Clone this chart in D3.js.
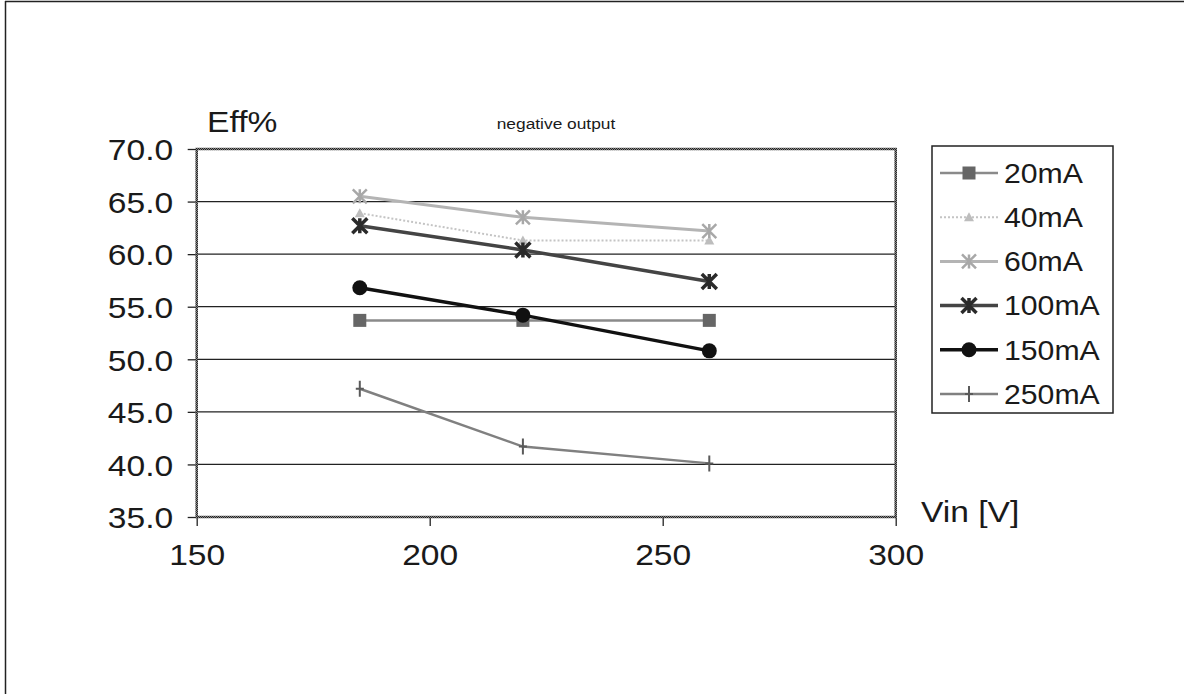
<!DOCTYPE html>
<html>
<head>
<meta charset="utf-8">
<script src="https://cdn.jsdelivr.net/npm/d3@7"></script>
<style>
  html, body { margin: 0; padding: 0; background: #fff; }
  svg { display: block; }
  text { font-family: "Liberation Sans", Arial, sans-serif; fill: #1a1a1a; }
</style>
</head>
<body>
<script>
// ---- data ----
const vin = [185, 220, 260];
const seriesNames = ["20mA", "40mA", "60mA", "100mA", "150mA", "250mA"];
const eff20  = [53.7, 53.7, 53.7];
const eff40  = [63.9, 61.3, 61.3];
const eff60  = [65.5, 63.5, 62.2];
const eff100 = [62.7, 60.4, 57.4];
const eff150 = [56.8, 54.2, 50.8];
const eff250 = [47.2, 41.7, 40.1];
const yTicks = [35, 40, 45, 50, 55, 60, 65, 70];
const xTicks = [150, 200, 250, 300];
const title = "negative output";
const yLabel = "Eff%";
const xLabel = "Vin [V]";

const seriesValues = [eff20, eff40, eff60, eff100, eff150, eff250];

const W = 1184, H = 694;
const SX = 1.12; // horizontal stretch of the original font
const svg = d3.select("body").append("svg").attr("width", W).attr("height", H);

const defs = svg.append("defs");
function checker(id, dark, light) {
  const p = defs.append("pattern").attr("id", id).attr("width", 2).attr("height", 2)
    .attr("patternUnits", "userSpaceOnUse");
  p.append("rect").attr("width", 2).attr("height", 2).attr("fill", light);
  p.append("rect").attr("width", 1).attr("height", 1).attr("fill", dark);
  p.append("rect").attr("x", 1).attr("y", 1).attr("width", 1).attr("height", 1).attr("fill", dark);
}
checker("chkDark", "#222", "#888");

// outer frame (left and top edges)
svg.append("line").attr("x1", 5.5).attr("y1", 1).attr("x2", 5.5).attr("y2", H).attr("stroke", "#222").attr("stroke-width", 1.5);
svg.append("line").attr("x1", 5).attr("y1", 1.5).attr("x2", W).attr("y2", 1.5).attr("stroke", "#222").attr("stroke-width", 1.5);

const L = 196.7, R = 895.7, T = 149, B = 517;
const x = d3.scaleLinear().domain([150, 300]).range([L, R]);
const y = d3.scaleLinear().domain([35, 70]).range([B, T]);

// gridlines
svg.append("g").selectAll("line").data(yTicks.filter(v => v > 35 && v < 70)).join("line")
  .attr("x1", L).attr("x2", R).attr("y1", d => y(d)).attr("y2", d => y(d))
  .attr("stroke", "#222").attr("stroke-width", 1.2);

// axes
const yAxis = d3.axisLeft(y).tickValues(yTicks).tickFormat(d3.format(".1f")).tickSize(9).tickPadding(12);
const gy = svg.append("g").attr("transform", `translate(${L},0)`).call(yAxis);
gy.select(".domain").remove();
gy.selectAll(".tick line").attr("stroke", "#222").attr("stroke-width", 1.3);
gy.selectAll(".tick text").attr("font-size", 30).attr("fill", "#1a1a1a")
  .attr("font-family", "Liberation Sans, Arial, sans-serif").attr("dy", "0.36em")
  .attr("transform", `scale(${SX},1)`);

const xAxis = d3.axisBottom(x).tickValues(xTicks).tickFormat(d3.format("d")).tickSize(9).tickPadding(18);
const gx = svg.append("g").attr("transform", `translate(0,${B})`).call(xAxis);
gx.select(".domain").remove();
gx.selectAll(".tick line").attr("stroke", "#222").attr("stroke-width", 1.3);
gx.selectAll(".tick text").attr("font-size", 30).attr("fill", "#1a1a1a")
  .attr("font-family", "Liberation Sans, Arial, sans-serif")
  .attr("transform", `scale(${SX},1)`);

// plot border (stippled)
svg.append("rect").attr("x", L).attr("y", T).attr("width", R - L).attr("height", B - T)
  .attr("fill", "none").attr("stroke", "url(#chkDark)").attr("stroke-width", 2.5);

// stretched text helper
function label(px, py, txt, size, anchor) {
  svg.append("g").attr("transform", `translate(${px},${py}) scale(${SX},1)`)
    .append("text").attr("font-size", size).attr("text-anchor", anchor || "start").text(txt);
}
label(207, 132, yLabel, 30);
label(921, 522, xLabel, 30);
label(556, 129, title, 15.5, "middle");

// styles
const styles = [
  { stroke: "#8a8a8a", width: 2.5, dash: null, marker: "square", mfill: "#666", size: 13 },
  { stroke: "#c4c4c4", width: 2, dash: "2,2", marker: "triangle", mfill: "#bdbdbd", size: 10 },
  { stroke: "#b4b4b4", width: 3, dash: null, marker: "asterisk", mfill: "#a8a8a8", size: 14 },
  { stroke: "#444", width: 3.5, dash: null, marker: "star", mfill: "#2a2a2a", size: 15 },
  { stroke: "#111", width: 3.5, dash: null, marker: "circle", mfill: "#111", size: 15 },
  { stroke: "#808080", width: 2.5, dash: null, marker: "plus", mfill: "#5a5a5a", size: 16 }
];

function drawMarker(g, type, cx, cy, st) {
  const s = st.size, h = s / 2;
  if (type === "square") {
    g.append("rect").attr("x", cx - h).attr("y", cy - h).attr("width", s).attr("height", s).attr("fill", st.mfill);
  } else if (type === "triangle") {
    g.append("path").attr("d", `M${cx},${cy - h}L${cx + h},${cy + h * 0.8}L${cx - h},${cy + h * 0.8}Z`).attr("fill", st.mfill);
  } else if (type === "asterisk" || type === "star") {
    const w = type === "star" ? 3.5 : 2.5;
    g.append("path").attr("d", `M${cx - h},${cy - h}L${cx + h},${cy + h}M${cx - h},${cy + h}L${cx + h},${cy - h}M${cx},${cy - h}L${cx},${cy + h}`)
      .attr("stroke", st.mfill).attr("stroke-width", w).attr("fill", "none");
  } else if (type === "circle") {
    g.append("circle").attr("cx", cx).attr("cy", cy).attr("r", h).attr("fill", st.mfill);
  } else if (type === "plus") {
    g.append("path").attr("d", `M${cx},${cy - h}L${cx},${cy + h}M${cx - 4},${cy}L${cx + 4},${cy}`)
      .attr("stroke", st.mfill).attr("stroke-width", 2).attr("fill", "none");
  }
}

const line = d3.line().x(d => x(d[0])).y(d => y(d[1]));
seriesValues.forEach((vals, i) => {
  const st = styles[i];
  const pts = vin.map((v, j) => [v, vals[j]]);
  const g = svg.append("g");
  g.append("path").attr("d", line(pts)).attr("fill", "none").attr("stroke", st.stroke)
    .attr("stroke-width", st.width).attr("stroke-dasharray", st.dash);
  pts.forEach(p => drawMarker(g, st.marker, x(p[0]), y(p[1]), st));
});

// legend
const lg = svg.append("g");
lg.append("rect").attr("x", 932).attr("y", 146).attr("width", 181).attr("height", 267)
  .attr("fill", "#fff").attr("stroke", "#222").attr("stroke-width", 1.5);
seriesNames.forEach((name, i) => {
  const st = styles[i];
  const cy = 173 + i * 44.2;
  lg.append("line").attr("x1", 940).attr("x2", 998).attr("y1", cy).attr("y2", cy)
    .attr("stroke", st.stroke).attr("stroke-width", st.width).attr("stroke-dasharray", st.dash);
  drawMarker(lg, st.marker, 969, cy, st);
  lg.append("g").attr("transform", `translate(1004,${cy}) scale(${SX},1)`)
    .append("text").attr("dy", "0.36em").attr("font-size", 27).text(name);
});
</script>
</body>
</html>
